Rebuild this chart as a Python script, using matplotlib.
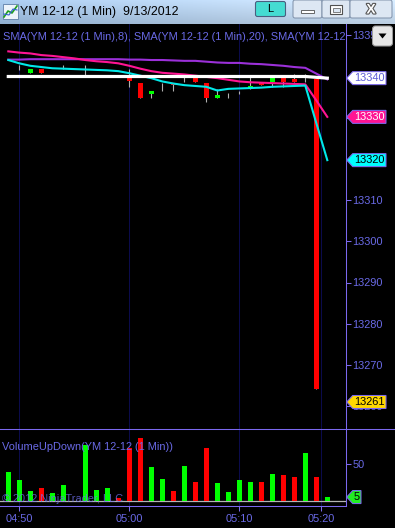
import numpy as np
import matplotlib
matplotlib.use("Agg")
import matplotlib.pyplot as plt
import matplotlib.patheffects as pe
from matplotlib.patches import Rectangle, Polygon, FancyBboxPatch
from matplotlib.lines import Line2D
from matplotlib.transforms import IdentityTransform

plt.rcParams['font.family'] = ['Liberation Sans', 'DejaVu Sans']

# one-minute bars of YM 12-12, 04:49 .. 05:21 (bar 6 has no data)
nan = np.nan
opens = [13340, 13342.5, 13340.8, 13341.7, 13342.3, 13342.3, nan, 13341.5, 13340, 13340,
         13340.2, 13340, 13338.4, 13335.8, 13337, 13338.4, 13339.5, 13339.8, 13338.4, 13334.8,
         13335.5, 13336, 13337, 13338.4, 13338.7, 13339.6, 13339.4, 13339.5, 13339.5, 13261]
highs = [13340, 13342.8, 13341.7, 13341.7, 13342.3, 13342.8, nan, 13342.8, 13340, 13340,
         13340.2, 13341.8, 13338.4, 13336.5, 13338.4, 13338.4, 13340.6, 13339.8, 13338.4, 13337,
         13336, 13336.5, 13339.9, 13338.4, 13339.6, 13339.6, 13340.6, 13340.6, 13339.5, 13261]
lows = [13340, 13341.6, 13340.8, 13340.8, 13342.3, 13341.8, nan, 13340.4, 13340, 13340,
        13339.9, 13337.4, 13334.8, 13334.8, 13336.5, 13336.5, 13338.7, 13338.7, 13333.8, 13334.8,
        13334.8, 13335.8, 13337, 13337.9, 13337.4, 13337.4, 13338.7, 13338.7, 13264.2, 13261]
closes = [13340, 13342.5, 13341.7, 13340.8, 13342.3, 13342.3, nan, 13341.5, 13340, 13340,
          13339.9, 13339, 13334.8, 13336.5, 13337, 13338.0, 13339.5, 13338.7, 13334.8, 13335.5,
          13335.5, 13336, 13337.6, 13337.9, 13339.6, 13338.7, 13338.7, 13339.5, 13264.2, 13261]
volumes = [40, 28, 14, 18, 11, 21, nan, 77, 15, 17, 4, 72, 86, 46, 30, 14, 48, 26, 72, 25,
           12, 29, 26, 26, 37, 35, 33, 66, 32, 5]

sma_8 = [13344.0, 13343.2, 13342.6, 13342.3, 13342.0, 13341.9, 13341.8, 13341.7, 13341.6, 13341.5,
         13341.3, 13340.8, 13340.2, 13339.6, 13338.8, 13338.3, 13337.9, 13337.7, 13337.5, 13336.6,
         13337.0, 13337.1, 13337.2, 13337.3, 13337.5, 13337.6, 13337.7, 13337.8, 13328.7, 13319.7]
sma_20 = [13346.1, 13345.8, 13345.6, 13345.2, 13345.0, 13344.7, 13344.4, 13344.0, 13343.7, 13343.5,
          13343.2, 13342.6, 13341.9, 13341.3, 13340.9, 13340.7, 13340.5, 13340.2, 13339.9, 13339.6,
          13339.2, 13338.8, 13338.6, 13338.5, 13338.4, 13338.3, 13338.2, 13338.1, 13334.2, 13330.2]
sma_slow = [13344.1, 13344.1, 13344.2, 13344.2, 13344.2, 13344.2, 13344.2, 13344.2, 13344.2, 13344.2,
            13344.2, 13344.1, 13344.1, 13344.0, 13344.0, 13343.9, 13343.8, 13343.8, 13343.6, 13343.4,
            13343.3, 13343.3, 13343.1, 13343.0, 13342.8, 13342.6, 13342.3, 13342.1, 13340.7, 13339.3]
sma_flat = [13340.0] * 28 + [13339.8, 13339.6]

price_ticks = [13260, 13270, 13280, 13290, 13300, 13310, 13320, 13330, 13340, 13350]
vol_ticks = [50]
time_ticks = [1, 11, 21, 28.45]
time_labels = ['04:50', '05:00', '05:10', '05:20']

title = 'YM 12-12 (1 Min)  9/13/2012'
# the panel caption is cut off by the price axis in the original
price_title = 'SMA(YM 12-12 (1 Min),8), SMA(YM 12-12 (1 Min),20), SMA(YM 12-12'
vol_title = 'VolumeUpDown(YM 12-12 (1 Min))'

# layout in pixels
W, H = 395, 528
AXIS_X = 345.7
TOP, SPLIT, VBOT = 24, 429.3, 505.7
BAR0, STEP = 8.3, 11.0
FS = 7.9
slate = '#7b68ee'
txtcol = '#6a6ae6'
grid = '#0b0b4c'


def rect(x0, y0, x1, y1):
    return [x0 / W, 1 - y1 / H, (x1 - x0) / W, (y1 - y0) / H]


fig = plt.figure(figsize=(W / 100, H / 100), dpi=100, facecolor='black')
ax = fig.add_axes(rect(0, TOP, AXIS_X, SPLIT), facecolor='black')
axv = fig.add_axes(rect(0, SPLIT, AXIS_X, VBOT), facecolor='black')

x = np.arange(len(closes))
o, h, l, c = (np.array(a, dtype=float) for a in (opens, highs, lows, closes))
vol = np.array(volumes, dtype=float)
up = c >= o
ok = ~np.isnan(c)
bw = 5 / STEP

for a in (ax, axv):
    a.set_xlim(-BAR0 / STEP, (AXIS_X - BAR0) / STEP)
    for s in a.spines.values():
        s.set_visible(False)
    for t in time_ticks:
        a.axvline(t, color=grid, lw=0.75, zorder=0.5)

# price panel: 13340 sits at y=76.5px, 4.12 px per point
ax.set_ylim(13340 - (SPLIT - 76.5) / 4.12, 13340 + (76.5 - TOP) / 4.12)
ax.vlines(x[ok], l[ok], h[ok], color='#b0b0b0', lw=0.8, zorder=2)
for i in x[ok]:
    if o[i] == c[i]:
        continue
    lo, hi = min(o[i], c[i]), max(o[i], c[i])
    ax.add_patch(Rectangle((i - bw / 2, lo), bw, hi - lo, zorder=3, edgecolor='none',
                           facecolor='#00ff00' if up[i] else '#ff0000'))

ax.plot(x, sma_slow, color='#9b30d9', lw=1.5, zorder=4)
ax.plot(x, sma_20, color='#ff1493', lw=1.5, zorder=4)
ax.plot(x, sma_8, color='#00e8e8', lw=1.5, zorder=4)
ax.plot(x, sma_flat, color='white', lw=2.3, zorder=5)

# value markers sit on top of the axis labels, so those labels are hidden
marked = [sma_flat[-1], sma_20[-1], sma_8[-1]]
ax.yaxis.tick_right()
ax.set_yticks(price_ticks)
ax.set_yticklabels(['' if min(abs(t - m) for m in marked) < 1.5 else str(t)
                    for t in price_ticks])
ax.set_xticks([])
ax.tick_params(axis='y', direction='out', length=3.6, width=0.75, color=slate,
               labelcolor=txtcol, labelsize=FS, pad=1.2)
ax.text(3 / AXIS_X, 1 - 13 / (SPLIT - TOP), price_title, transform=ax.transAxes,
        color=txtcol, fontsize=FS, va='center', ha='left', clip_on=True)

# volume panel: 0 at y=500.7px, 0.728 px per contract
axv.set_ylim(-(VBOT - 500.7) / 0.728, (500.7 - SPLIT) / 0.728)
axv.axhline(0, color='#b4b4b4', lw=0.9, zorder=1)
vok = ~np.isnan(vol)
axv.bar(x[vok], vol[vok], width=bw, zorder=2,
        color=['#00ff00' if u else '#ff0000' for u in up[vok]])
axv.yaxis.tick_right()
axv.set_yticks(vol_ticks)
axv.set_xticks(time_ticks)
axv.set_xticklabels(time_labels)
axv.tick_params(axis='y', direction='out', length=3.6, width=0.75, color=slate,
                labelcolor=txtcol, labelsize=FS, pad=1.2)
axv.tick_params(axis='x', direction='out', length=3.6, width=0.75, color=slate,
                labelcolor=txtcol, labelsize=FS, pad=2.2)
axv.text(2.5 / AXIS_X, 1 - 17.4 / (VBOT - SPLIT), vol_title, transform=axv.transAxes,
         color=txtcol, fontsize=FS, va='center', ha='left', clip_on=True)
axv.text(2 / AXIS_X, 1 - 69.7 / (VBOT - SPLIT), '\u00a9 2012 NinjaTrader, LLC',
         transform=axv.transAxes, color='#7070ee', alpha=0.75, fontsize=FS,
         va='center', ha='left', zorder=3)

# frame lines
for xs, ys in (([AXIS_X, AXIS_X], [TOP, VBOT]), ([0, W], [SPLIT, SPLIT]),
               ([0, AXIS_X], [VBOT, VBOT])):
    fig.add_artist(Line2D(xs, [H - y for y in ys], transform=IdentityTransform(),
                          color=slate, lw=0.75, zorder=4))


def marker(axis, value, face, tcol, right=386):
    yd = axis.transData.transform((0, value))[1]
    hh = 6.5
    pts = [(AXIS_X + 1, yd), (AXIS_X + 7, yd + hh), (right, yd + hh),
           (right, yd - hh), (AXIS_X + 7, yd - hh)]
    fig.add_artist(Polygon(pts, closed=True, transform=IdentityTransform(),
                           facecolor=face, edgecolor=slate, lw=0.75, zorder=5))
    fig.text((AXIS_X + 7 + right) / 2 / W, yd / H, f'{value:.0f}', color=tcol,
             fontsize=FS, ha='center', va='center', zorder=6)


marker(ax, sma_flat[-1], 'white', '#5b5bd6')
marker(ax, sma_20[-1], '#ff1493', 'white')
marker(ax, sma_8[-1], '#00ffff', 'black')
marker(ax, closes[-1], '#ffd700', 'black')
marker(axv, volumes[-1], '#22ee22', 'black', right=361)

# chart drop-down button
fig.add_artist(FancyBboxPatch((372.5, H - 46), 20, 20, boxstyle='round,pad=0,rounding_size=3',
                              transform=IdentityTransform(), facecolor='#e6e6e6',
                              edgecolor='#9a9a9a', lw=0.75, zorder=7))
fig.add_artist(Polygon([(378.5, H - 33.5), (386.5, H - 33.5), (382.5, H - 38.5)],
                       transform=IdentityTransform(), facecolor='black', zorder=8))

# window title bar
axt = fig.add_axes(rect(0, 0, W, TOP))
axt.set_xlim(0, W)
axt.set_ylim(TOP, 0)
axt.axis('off')
left = np.array([0.62, 0.75, 0.89])
right = np.array([0.80, 0.88, 0.96])
u = np.linspace(0, 1, 80)[None, :, None]
v = np.linspace(0, 1, 24)[:, None, None]
img = left * (1 - u) + right * u
img = img * (1 - 0.08 * v) + 0.06 * (1 - v)
axt.imshow(np.clip(img, 0, 1), extent=[0, W, TOP, 0], aspect='auto', zorder=0)

axt.add_patch(Rectangle((3, 4), 15, 15, facecolor='#eef4fb', edgecolor='#5f7fa8', lw=0.6))
axt.plot([4, 8, 12, 17], [17, 11, 13, 6], color='#20a020', lw=1.2)
axt.plot([4, 9, 13, 17], [14, 15, 9, 10], color='#3060d0', lw=0.8)
axt.text(20, 12, title, fontsize=8.9, va='center', ha='left', color='black')

axt.add_patch(FancyBboxPatch((255.5, 1.5), 30, 15, boxstyle='round,pad=0,rounding_size=2',
                             facecolor='#45dcd2', edgecolor='#4a5f80', lw=0.8))
axt.text(270.5, 9.5, 'L', fontsize=8, ha='center', va='center', color='black')
for bx0, bx1 in ((293, 322), (322, 350), (350, 392)):
    axt.add_patch(FancyBboxPatch((bx0, 0), bx1 - bx0, 18, boxstyle='round,pad=0,rounding_size=2',
                                 facecolor='#dde7f3', edgecolor='#7d8fa8', lw=0.7))
axt.add_patch(Rectangle((301, 10), 13, 3, facecolor='white', edgecolor='#505050', lw=0.6))
axt.add_patch(Rectangle((330, 5), 12, 9, facecolor='white', edgecolor='#505050', lw=0.8))
axt.add_patch(Rectangle((332.5, 8), 7, 4, facecolor='#dde7f3', edgecolor='#505050', lw=0.5))
axt.text(371, 9.5, 'X', fontsize=10, fontweight='bold', ha='center', va='center',
         color='white', path_effects=[pe.withStroke(linewidth=1.6, foreground='#555555')])

fig.savefig('out.png', dpi=100, facecolor='black')
